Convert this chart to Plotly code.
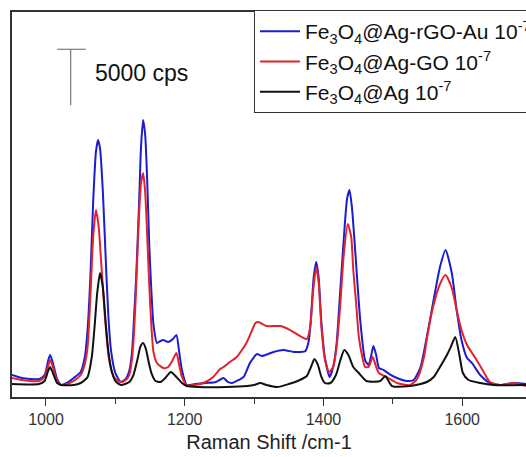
import plotly.graph_objects as go

# ---------------- data ----------------
blue_x = [951, 965, 990, 998, 1003, 1006, 1010, 1016, 1022, 1030, 1040, 1050, 1056, 1060, 1064, 1068,
          1072, 1075, 1078, 1082, 1086, 1090, 1094, 1100, 1108, 1115, 1120, 1124, 1127, 1130, 1134, 1137,
          1140, 1143, 1146, 1149, 1152, 1155, 1160, 1165, 1169, 1176, 1183, 1188, 1192, 1196, 1203, 1215,
          1230, 1245, 1256, 1262, 1268, 1278, 1285, 1294, 1300, 1304, 1311, 1320, 1328, 1342, 1357, 1366,
          1374, 1379, 1383, 1386, 1389.5, 1393, 1397, 1402, 1409, 1414, 1419, 1424, 1430, 1434, 1437.5, 1441,
          1446, 1453, 1460, 1465, 1469, 1472, 1476, 1480, 1487, 1495, 1506, 1520, 1530, 1540, 1549, 1558,
          1568, 1576, 1585, 1592, 1599, 1607, 1614, 1626, 1640, 1655, 1674, 1692]
blue_y = [1960, 1700, 1610, 1960, 3210, 3750, 3040, 1610, 1070, 1250, 1700, 2230, 3570, 6070, 10720, 17410,
          21880, 22950, 22150, 18310, 12500, 7140, 4020, 2140, 1340, 1610, 2320, 4020, 7140, 10720, 16970, 22330,
          24740, 23400, 19200, 13400, 9380, 6430, 4820, 5000, 5090, 4910, 5180, 5540, 4020, 2410, 1070, 1160,
          1250, 1340, 1700, 1340, 1250, 1520, 1790, 3040, 3570, 3840, 3660, 3840, 4020, 4200, 4020, 4020,
          4110, 5090, 8040, 10720, 12060, 10720, 6700, 3570, 1790, 2680, 4820, 9290, 14730, 17680, 18490, 16970,
          12860, 6880, 3300, 2860, 3750, 4550, 3750, 2590, 2410, 2050, 1700, 1430, 1520, 2680, 5360, 8390,
          11610, 13130, 11070, 7770, 5090, 3480, 3040, 1960, 1250, 1070, 1250, 1160]

red_x = [951, 965, 990, 998, 1003, 1006, 1010, 1016, 1022, 1030, 1040, 1050, 1056, 1060, 1064, 1068,
         1072, 1076, 1080, 1085, 1090, 1095, 1100, 1108, 1115, 1120, 1124, 1127, 1130, 1134, 1137, 1140,
         1143, 1146, 1149, 1152, 1155, 1160, 1169, 1176, 1182, 1188, 1192, 1196, 1203, 1215, 1230, 1241,
         1251, 1256, 1265, 1275, 1289, 1296, 1302, 1306, 1318, 1338, 1352, 1366, 1376, 1381, 1385, 1389.5,
         1393, 1397, 1402, 1408, 1414, 1419, 1424, 1429, 1435, 1440, 1443, 1447, 1451, 1456, 1460, 1465,
         1471, 1476, 1480, 1491, 1506, 1525, 1535, 1545, 1549, 1558, 1568, 1576, 1585, 1592, 1599, 1607,
         1619, 1631, 1640, 1655, 1674, 1692]
red_y = [1700, 1520, 1430, 1790, 2770, 3300, 2680, 1430, 1070, 1160, 1430, 1960, 2950, 4470, 8930, 14290,
         16700, 15180, 11610, 7140, 3750, 2230, 1610, 1340, 1520, 1960, 3390, 5800, 9820, 16070, 19110, 20000,
         18310, 14290, 9820, 6250, 4020, 3040, 2590, 2680, 3210, 3930, 2860, 1790, 1070, 1070, 1340, 1790,
         2500, 2680, 3130, 3570, 4820, 5800, 6610, 6700, 6340, 6340, 5980, 5450, 5180, 6250, 9380, 11610,
         10270, 6250, 3390, 2230, 2680, 4470, 8040, 12500, 15450, 14290, 11340, 8480, 5360, 3570, 2680, 2680,
         3570, 2680, 2140, 1790, 1250, 1070, 1610, 3570, 5180, 8040, 10090, 10890, 9730, 7770, 5980, 4640,
         3480, 2230, 1340, 1070, 1250, 980]

black_x = [951, 990, 998, 1003, 1006, 1010, 1016, 1022, 1040, 1050, 1056, 1060, 1066, 1070, 1074, 1078,
           1082, 1086, 1090, 1095, 1100, 1108, 1120, 1126, 1132, 1136, 1140, 1144, 1148, 1152, 1158, 1165,
           1172, 1180, 1188, 1196, 1203, 1220, 1260, 1290, 1300, 1309, 1318, 1333, 1350, 1366, 1376, 1382,
           1387, 1392, 1397, 1402, 1410, 1418, 1424, 1430, 1436, 1443, 1451, 1462, 1482, 1489, 1493, 1499,
           1525, 1540, 1549, 1559, 1568, 1578, 1583, 1590, 1596, 1601, 1609, 1626, 1645, 1692]
black_y = [1160, 1160, 1430, 2320, 2680, 2140, 1250, 1070, 1070, 1250, 1520, 1790, 3570, 6250, 9380, 11070,
           9820, 6700, 4020, 2230, 1430, 1070, 1340, 1960, 3390, 4470, 4820, 4290, 3130, 2140, 1430, 1340,
           1700, 2230, 1790, 1250, 980, 890, 890, 980, 1070, 1250, 1070, 890, 1160, 1520, 1880, 2680,
           3390, 2860, 1790, 1250, 1250, 1960, 3210, 4200, 3750, 2680, 2140, 1430, 1430, 1880, 1520, 980,
           980, 1160, 1340, 1790, 2680, 3750, 4380, 5360, 3750, 2140, 1520, 1250, 1070, 1070]

series_names = ["Fe<sub>3</sub>O<sub>4</sub>@Ag-rGO-Au 10<sup>-7</sup>",
                "Fe<sub>3</sub>O<sub>4</sub>@Ag-GO 10<sup>-7</sup>",
                "Fe<sub>3</sub>O<sub>4</sub>@Ag 10<sup>-7</sup>"]
series_colors = ["#1c1cd2", "#e3232b", "#111111"]

x_ticks = [1000, 1200, 1400, 1600]
x_range = [951, 1692]
y_range = [0, 34380]

# scale bar (5000 cps)
bar_x = 1035.6
bar_bottom = 26050
bar_value = 5000
bar_cap = [1016.3, 1057.3]
bar_label = "5000 cps"
bar_label_x = 1068
bar_label_y = 28890

FONT = "Liberation Sans, Arial, sans-serif"

fig = go.Figure()
for xs, ys, name, col in zip([blue_x, red_x, black_x], [blue_y, red_y, black_y], series_names, series_colors):
    fig.add_trace(go.Scatter(x=xs, y=ys, mode="lines", name=name,
                             line=dict(color=col, width=2, shape="spline", smoothing=0.6)))

# scale bar as data traces
fig.add_trace(go.Scatter(x=[bar_x, bar_x], y=[bar_bottom, bar_bottom + bar_value], mode="lines",
                         line=dict(color="#7a7a7a", width=1.2), showlegend=False, hoverinfo="skip"))
fig.add_trace(go.Scatter(x=bar_cap, y=[bar_bottom + bar_value] * 2, mode="lines",
                         line=dict(color="#7a7a7a", width=1.2), showlegend=False, hoverinfo="skip"))
fig.add_annotation(x=bar_label_x, y=bar_label_y, text=bar_label, showarrow=False,
                   xanchor="left", yanchor="middle", font=dict(family=FONT, size=23, color="#111"))

fig.update_layout(
    width=526, height=457,
    margin=dict(l=12, r=0, t=12, b=60, autoexpand=False),
    paper_bgcolor="white", plot_bgcolor="white",
    font=dict(family=FONT, color="#222"),
    showlegend=True,
    legend=dict(x=0.4708, y=1.005, xanchor="left", yanchor="top",
                bgcolor="white", bordercolor="#333", borderwidth=1,
                font=dict(family=FONT, size=21, color="#111"),
                itemwidth=40, tracegroupgap=0),
    xaxis=dict(range=x_range, tickvals=x_ticks, ticks="outside", ticklen=7, tickwidth=1.2,
               tickcolor="#333", showline=True, linecolor="#333", linewidth=1.5, mirror=True,
               showgrid=False, zeroline=False,
               tickfont=dict(family=FONT, size=16, color="#333"),
               minor=dict(tickvals=[1100, 1300, 1500], ticks="outside", ticklen=5, tickcolor="#333"),
               title=dict(text="Raman Shift /cm-1", font=dict(family=FONT, size=20, color="#222"),
                          standoff=8)),
    yaxis=dict(range=y_range, showticklabels=False, ticks="", showline=True, linecolor="#333",
               linewidth=1.5, mirror=False, showgrid=False, zeroline=False),
)

fig.write_html("out.html")
